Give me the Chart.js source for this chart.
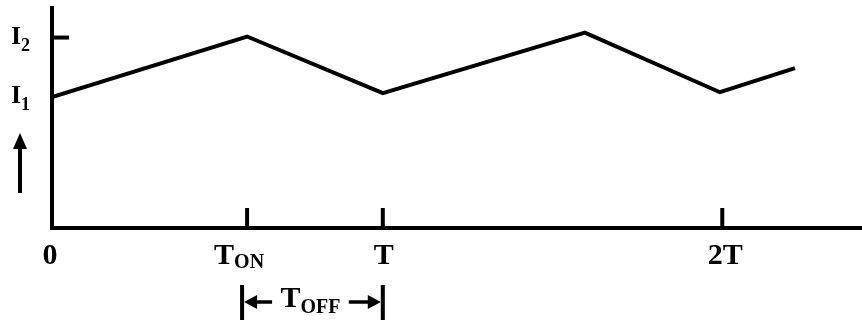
<!DOCTYPE html>
<html>
<head>
<meta charset="utf-8">
<script src="https://cdn.jsdelivr.net/npm/chart.js@4.4.0/dist/chart.umd.min.js"></script>
<style>
  html, body { margin: 0; padding: 0; background: #fff; }
  #wrap { width: 862px; height: 322px; position: relative; }
</style>
</head>
<body>
<div id="wrap"><canvas id="grafico"></canvas></div>
<script>
// forma de onda (tiempo en unidades de T, corriente en unidades de I1)
const tiempos = [0, 0.585, 0.992, 1.598, 2.003, 2.228];
const corrientes = [1.0, 1.464, 1.031, 1.494, 1.038, 1.222];

// marcas del eje x
const xTicks = [0, 0.585, 0.992, 2.01];
const xLabels = [['0', ''], ['T', 'ON'], ['T', ''], ['2T', '']];
const xConMarca = [false, true, true, true];

// marcas del eje y
const yTicks = [1.0, 1.456];
const yLabels = [['I', '1'], ['I', '2']];
const yConMarca = [false, true];

const fuente = '"Liberation Serif", "Times New Roman", serif';
// corrimiento horizontal de cada etiqueta respecto de su marca
const xCorrimiento = [-2, -8, 1, 3];

function texto(ctx, base, sub, x, y, tam, tamSub, bajada, centrar) {
  ctx.font = 'bold ' + tam + 'px ' + fuente;
  const w1 = ctx.measureText(base).width;
  ctx.font = 'bold ' + tamSub + 'px ' + fuente;
  const w2 = sub ? ctx.measureText(sub).width : 0;
  let x0 = centrar ? x - (w1 + w2) / 2 : x;
  ctx.textAlign = 'left';
  ctx.textBaseline = 'alphabetic';
  ctx.font = 'bold ' + tam + 'px ' + fuente;
  ctx.fillText(base, x0, y);
  if (sub) {
    ctx.font = 'bold ' + tamSub + 'px ' + fuente;
    ctx.fillText(sub, x0 + w1, y + bajada);
  }
}

const extras = {
  id: 'extras',
  afterDraw(chart) {
    const ctx = chart.ctx;
    const sx = chart.scales.x, sy = chart.scales.y;
    const ejeY = sy.bottom, ejeX = sx.left;
    ctx.save();
    ctx.strokeStyle = '#000';
    ctx.fillStyle = '#000';
    ctx.lineWidth = 4;
    ctx.lineCap = 'butt';

    // marcas y etiquetas del eje x
    xTicks.forEach((v, i) => {
      const px = sx.getPixelForValue(v);
      if (xConMarca[i]) {
        ctx.beginPath();
        ctx.moveTo(px, ejeY);
        ctx.lineTo(px, ejeY - 20);
        ctx.stroke();
      }
      const [b, s] = xLabels[i];
      texto(ctx, b, s, px + xCorrimiento[i], 264, 30, 20, 4, true);
    });

    // marcas y etiquetas del eje y
    yTicks.forEach((v, i) => {
      const py = sy.getPixelForValue(v);
      if (yConMarca[i]) {
        ctx.beginPath();
        ctx.moveTo(ejeX, py);
        ctx.lineTo(ejeX + 17, py);
        ctx.stroke();
      }
      const [b, s] = yLabels[i];
      texto(ctx, b, s, 11, py + 6, 26, 18, 7, false);
    });

    // flecha hacia arriba
    ctx.lineWidth = 4;
    ctx.beginPath();
    ctx.moveTo(20, 193);
    ctx.lineTo(20, 146);
    ctx.stroke();
    ctx.beginPath();
    ctx.moveTo(20, 133);
    ctx.lineTo(13, 149);
    ctx.lineTo(27, 149);
    ctx.closePath();
    ctx.fill();

    // cota de T_OFF
    const xa = sx.getPixelForValue(xTicks[1]) - 5;
    const xb = sx.getPixelForValue(xTicks[2]);
    const yc = 302;
    ctx.beginPath();
    ctx.moveTo(xa, 285); ctx.lineTo(xa, 320);
    ctx.moveTo(xb, 285); ctx.lineTo(xb, 320);
    ctx.stroke();
    ctx.lineWidth = 3.5;
    ctx.beginPath();
    ctx.moveTo(xa + 12, yc); ctx.lineTo(xa + 30, yc);
    ctx.moveTo(xb - 34, yc); ctx.lineTo(xb - 12, yc);
    ctx.stroke();
    ctx.beginPath();
    ctx.moveTo(xa + 2, yc); ctx.lineTo(xa + 15, yc - 7); ctx.lineTo(xa + 15, yc + 7); ctx.closePath();
    ctx.moveTo(xb - 2, yc); ctx.lineTo(xb - 15, yc - 7); ctx.lineTo(xb - 15, yc + 7); ctx.closePath();
    ctx.fill();
    texto(ctx, 'T', 'OFF', (xa + xb) / 2 - 2, 307, 30, 20, 6, true);

    ctx.restore();
  }
};

new Chart(document.getElementById('grafico'), {
  type: 'line',
  data: {
    datasets: [{
      data: tiempos.map((t, i) => ({ x: t, y: corrientes[i] })),
      borderColor: '#000',
      borderWidth: 4,
      pointRadius: 0,
      tension: 0,
      fill: false
    }]
  },
  options: {
    responsive: true,
    maintainAspectRatio: false,
    animation: false,
    layout: { padding: { left: 52, right: 0, top: 8, bottom: 94 } },
    plugins: { legend: { display: false }, tooltip: { enabled: false } },
    scales: {
      x: {
        type: 'linear',
        min: 0,
        max: 2.429,
        grid: { display: false },
        ticks: { display: false },
        border: { display: true, color: '#000', width: 4 },
        afterFit: s => { s.height = 0; }
      },
      y: {
        type: 'linear',
        min: 0,
        max: 1.682,
        grid: { display: false },
        ticks: { display: false },
        border: { display: true, color: '#000', width: 4 },
        afterFit: s => { s.width = 0; }
      }
    }
  },
  plugins: [extras]
});
</script>
</body>
</html>
